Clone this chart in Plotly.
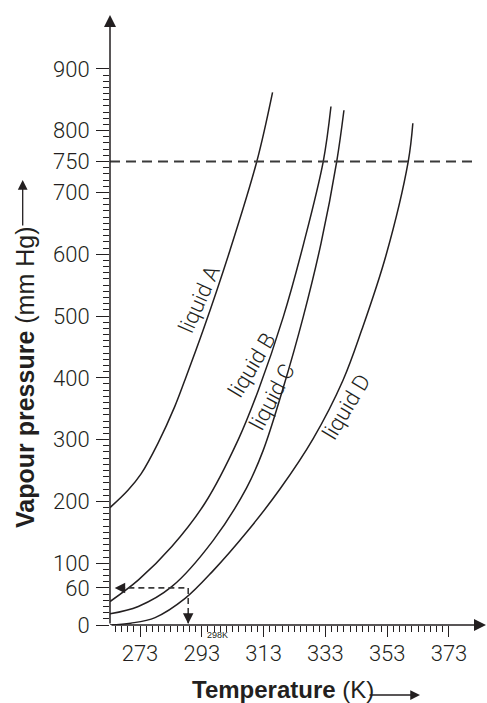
import plotly.graph_objects as go

# ---------------- data ----------------
temp_A = [263.3, 269.1, 273.4, 278.8, 284.2, 287.5, 293.5, 302.1, 310.8, 315.9]
vp_A = [190, 218, 245, 294, 353, 396, 478, 606, 750, 862]

temp_B = [263.3, 272.5, 283.3, 294.0, 304.8, 311.3, 319.4, 326.0, 332.3, 334.8]
vp_B = [38, 73, 127, 197, 300, 380, 499, 618, 750, 839]

temp_C = [263.3, 272.45, 283.26, 296.7, 307.5, 312.9, 319.3, 325.85, 331.6, 336.66, 339.0]
vp_C = [18, 30, 62, 137, 222, 283, 383, 499, 618, 750, 833]

temp_D = [263.3, 270.0, 277.9, 287.6, 296.7, 307.5, 318.3, 329.1, 338.7, 344.8, 352.6, 359.8, 361.3]
vp_D = [0, 3, 12, 43, 88, 150, 220, 302, 396, 478, 598, 750, 812]

series_names = ["liquid A", "liquid B", "liquid C", "liquid D"]

boiling_pressure = 750
ref_pressure = 60
ref_temp = 288.6
small_label_temp = 298

x_label_vals = [273, 293, 313, 333, 353, 373]
x_major_vals = [273, 283, 293, 303, 313, 323, 333, 343, 353, 363, 373]
x_minor_vals = list(range(265, 373, 2))

y_label_vals = [0, 60, 100, 200, 300, 400, 500, 600, 700, 750, 800, 900]
y_mid_vals = [150, 250, 350, 450, 550, 650, 850]
y_minor_vals = list(range(10, 900, 10))

# ---------------- style / geometry ----------------
INK = "#231f20"
W, H = 487, 703
ML, MR, MT, MB = 110, 0, 15, 78
X0, X1 = 263.29, 385.3
Y0, Y1 = 0, 987.1
PW, PH = W - ML - MR, H - MT - MB

fig = go.Figure()

curves = [(temp_A, vp_A), (temp_B, vp_B), (temp_C, vp_C), (temp_D, vp_D)]
for (tx, vy), name in zip(curves, series_names):
    fig.add_trace(go.Scatter(x=tx, y=vy, mode="lines", name=name,
                             line=dict(color=INK, width=1.5, shape="spline", smoothing=1.0),
                             hoverinfo="skip", showlegend=False))

# dashed 750 line
fig.add_trace(go.Scatter(x=[X0, 381.4], y=[boiling_pressure, boiling_pressure], mode="lines",
                         line=dict(color="#3a3a3a", width=2, dash="10px,6px"),
                         hoverinfo="skip", showlegend=False))
# dashed 60 mm Hg guide
fig.add_trace(go.Scatter(x=[266.0, ref_temp, ref_temp], y=[ref_pressure, ref_pressure, 3],
                         mode="lines", line=dict(color="#3a3a3a", width=1.6, dash="6px,4px"),
                         hoverinfo="skip", showlegend=False))

y_tickvals = sorted(y_label_vals + y_mid_vals)
y_ticktext = [str(v) if v in y_label_vals else "" for v in y_tickvals]
x_ticktext = [str(v) if v in x_label_vals else "" for v in x_major_vals]

tickfont = dict(family="Roboto, Liberation Sans, sans-serif", size=22, color=INK, weight=300)

fig.update_layout(
    width=W, height=H,
    margin=dict(l=ML, r=MR, t=MT, b=MB, pad=0),
    paper_bgcolor="white", plot_bgcolor="white",
    xaxis=dict(range=[X0, X1], showgrid=False, zeroline=False, showline=False,
               ticks="outside", tickmode="array", tickvals=x_major_vals, ticktext=x_ticktext,
               ticklen=11, tickwidth=1.4, tickcolor=INK, tickfont=tickfont,
               ticklabelstandoff=-2,
               minor=dict(tickmode="array", tickvals=x_minor_vals, ticks="outside",
                          ticklen=6, tickwidth=1.1, tickcolor=INK)),
    yaxis=dict(range=[Y0, Y1], showgrid=False, zeroline=False, showline=False,
               ticks="outside", tickmode="array", tickvals=y_tickvals, ticktext=y_ticktext,
               ticklen=13, tickwidth=1.4, tickcolor=INK, tickfont=tickfont,
               ticklabelstandoff=2,
               minor=dict(tickmode="array", tickvals=y_minor_vals, ticks="outside",
                          ticklen=6, tickwidth=1.1, tickcolor=INK)),
)

ann = []
# axes with arrowheads
ann.append(dict(xref="paper", yref="paper", x=1, y=0, ax=-PW, ay=0, text="",
                showarrow=True, arrowhead=2, arrowsize=1.6, arrowwidth=1.5, arrowcolor=INK))
ann.append(dict(xref="paper", yref="paper", x=0, y=1, ax=0, ay=PH, text="",
                showarrow=True, arrowhead=2, arrowsize=1.6, arrowwidth=1.5, arrowcolor=INK))
# small arrowheads of the 60 mm Hg guide
ann.append(dict(xref="x", yref="y", x=264.8, y=ref_pressure, ax=12, ay=0, text="",
                showarrow=True, arrowhead=2, arrowsize=1.5, arrowwidth=1.4, arrowcolor=INK))
ann.append(dict(xref="x", yref="y", x=ref_temp, y=2, ax=0, ay=-12, text="",
                showarrow=True, arrowhead=2, arrowsize=1.5, arrowwidth=1.4, arrowcolor=INK))

# curve labels
label_pos = [(292.1, 527, -66), (309.4, 421, -59), (315.9, 369, -62), (339.9, 353, -59)]
for name, (lx, ly, ang) in zip(series_names, label_pos):
    ann.append(dict(xref="x", yref="y", x=lx, y=ly, text=name, showarrow=False,
                    textangle=ang, xanchor="center", yanchor="middle",
                    font=dict(family="Roboto, Liberation Sans, sans-serif", size=22,
                              color=INK, weight=300)))

# 298K small label
ann.append(dict(xref="x", yref="paper", x=small_label_temp, y=-9.5 / PH,
                text="298K", showarrow=False, xanchor="center", yanchor="middle",
                font=dict(family="Liberation Sans, sans-serif", size=9, color=INK)))

# axis titles
ann.append(dict(xref="paper", yref="paper", x=(25 - ML) / PW, y=(625 - 378) / PH,
                text="<b>Vapour pressure</b> (mm Hg)", textangle=-90, showarrow=False,
                xanchor="center", yanchor="middle",
                font=dict(family="Liberation Sans, sans-serif", size=25, color=INK)))
ann.append(dict(xref="paper", yref="paper", x=(22.7 - ML) / PW, y=(625 - 180) / PH,
                ax=0, ay=47, text="", showarrow=True, arrowhead=2, arrowsize=1.5,
                arrowwidth=1.3, arrowcolor=INK))
ann.append(dict(xref="paper", yref="paper", x=(282.5 - ML) / PW, y=(625 - 689) / PH,
                text="<b>Temperature</b> (K)", showarrow=False,
                xanchor="center", yanchor="middle",
                font=dict(family="Liberation Sans, sans-serif", size=24, color=INK)))
ann.append(dict(xref="paper", yref="paper", x=(420 - ML) / PW, y=(625 - 695) / PH,
                ax=-52, ay=0, text="", showarrow=True, arrowhead=2, arrowsize=1.5,
                arrowwidth=1.3, arrowcolor=INK))

fig.update_layout(annotations=ann)
fig.write_html("out.html", config={"displayModeBar": False},
               post_script="document.body.style.margin='0px';document.body.style.overflow='hidden';")
